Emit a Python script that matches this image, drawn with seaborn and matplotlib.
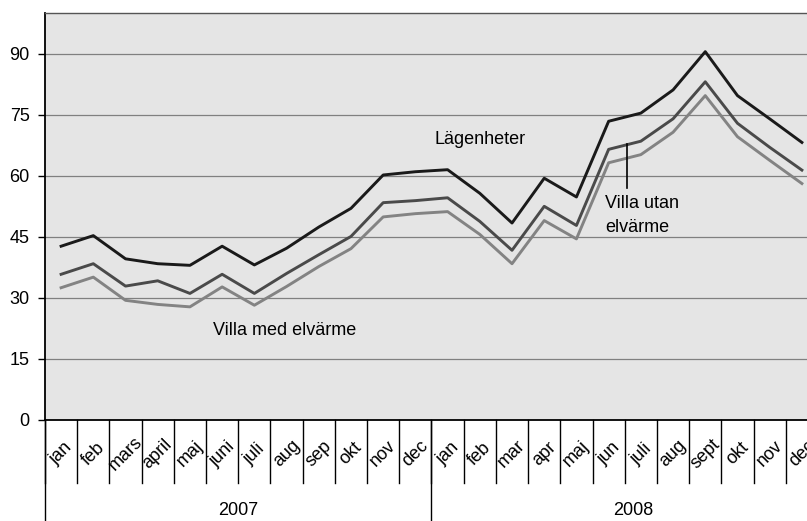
import numpy as np
import pandas as pd
import matplotlib
matplotlib.use("Agg")
import matplotlib.pyplot as plt
import seaborn as sns

# data
months_2007 = ["jan", "feb", "mars", "april", "maj", "juni", "juli", "aug", "sep", "okt", "nov", "dec"]
months_2008 = ["jan", "feb", "mar", "apr", "maj", "jun", "juli", "aug", "sept", "okt", "nov", "dec"]
years = ["2007", "2008"]

lagenheter = [42.7, 45.3, 39.6, 38.4, 38.0, 42.7, 38.1, 42.2, 47.4, 52.0, 60.2, 61.0,
              61.5, 55.7, 48.4, 59.4, 54.8, 73.4, 75.4, 81.1, 90.5, 79.7, 74.0, 68.2]
villa_utan = [35.8, 38.4, 32.9, 34.2, 31.1, 35.8, 31.1, 36.0, 40.6, 45.1, 53.4, 53.9,
              54.6, 48.8, 41.7, 52.5, 47.8, 66.5, 68.5, 74.0, 83.1, 72.9, 67.0, 61.4]
villa_med = [32.5, 35.1, 29.4, 28.4, 27.8, 32.7, 28.2, 32.8, 37.7, 42.1, 49.9, 50.7,
             51.2, 45.6, 38.4, 49.0, 44.5, 63.2, 65.2, 70.7, 79.7, 69.6, 63.8, 58.1]

months = months_2007 + months_2008
n = len(months)
df = pd.DataFrame({
    "idx": list(range(n)) * 3,
    "value": lagenheter + villa_utan + villa_med,
    "serie": ["Lägenheter"] * n + ["Villa utan elvärme"] * n + ["Villa med elvärme"] * n,
})

plt.rcParams['font.family'] = ['Liberation Sans', 'DejaVu Sans']
plt.rcParams['font.size'] = 13

fig = plt.figure(figsize=(8.07, 5.21), dpi=100)
ax = fig.add_axes([45 / 807, 1 - 420 / 521, 773 / 807, 407 / 521])
ax.set_facecolor("#e5e5e5")

sns.lineplot(data=df, x="idx", y="value", hue="serie", ax=ax, legend=False,
             palette={"Lägenheter": "#1a1a1a", "Villa utan elvärme": "#4a4a4a",
                      "Villa med elvärme": "#838383"},
             linewidth=2.1, zorder=3)

ax.set_xlim(-0.5, n - 0.5)
ax.set_ylim(0, 100)
ax.set_yticks(range(0, 91, 15))
ax.yaxis.grid(True, color="#808080", linewidth=0.9)
ax.set_axisbelow(True)
ax.set_xticks([])
ax.set_xlabel("")
ax.set_ylabel("")
ax.tick_params(axis="y", length=5, width=1, color="black", pad=6)

for s in ["left", "bottom"]:
    ax.spines[s].set_color("black")
    ax.spines[s].set_linewidth(1.3)
ax.spines["top"].set_color("#555555")
ax.spines["top"].set_linewidth(1.0)
ax.spines["right"].set_visible(False)

# two-level category axis
trans = ax.get_xaxis_transform()
for i, m in enumerate(months):
    ax.text(i, -0.083, m, rotation=45, ha="center", va="center", transform=trans)
for k in range(n + 1):
    ax.plot([k - 0.5, k - 0.5], [0, -0.155], color="black", linewidth=1.0,
            transform=trans, clip_on=False)
for k in [0, 12, 24]:
    ax.plot([k - 0.5, k - 0.5], [0, -0.26], color="black", linewidth=1.0,
            transform=trans, clip_on=False)
ax.text(5.5, -0.222, years[0], ha="center", va="center", transform=trans)
ax.text(17.75, -0.222, years[1], ha="center", va="center", transform=trans)

# series labels
ax.text(13.0, 68.8, "Lägenheter", ha="center", va="center")
ax.text(16.88, 50.3, "Villa utan\nelvärme", ha="left", va="center", linespacing=1.55)
ax.plot([17.57, 17.57], [56.9, 67.9], color="black", linewidth=1.2, zorder=4)
ax.text(4.72, 22.0, "Villa med elvärme", ha="left", va="center")

fig.savefig("out.png", dpi=100)
